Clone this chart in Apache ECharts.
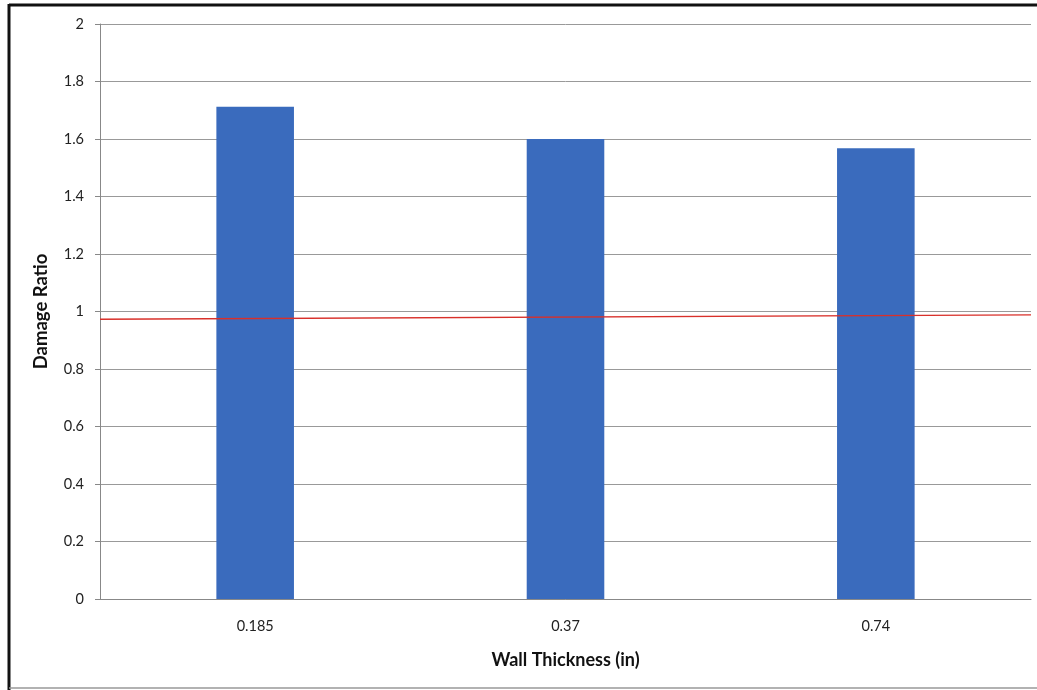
<!DOCTYPE html>
<html>
<head>
<meta charset="utf-8">
<script src="https://cdn.jsdelivr.net/npm/echarts@6/dist/echarts.min.js"></script>
<style>
html,body{margin:0;padding:0;background:#fff;}
#chart{width:1037px;height:690px;}
</style>
</head>
<body>
<div id="chart"></div>
<script>
const categories = ['0.185', '0.37', '0.74'];
const damageRatio = [1.712, 1.60, 1.568];
const refLine = [[0, 0.973], [1, 0.988]];
const yTicks = [0, 0.2, 0.4, 0.6, 0.8, 1, 1.2, 1.4, 1.6, 1.8, 2];

const chart = echarts.init(document.getElementById('chart'));
const font = 'Lato, "Open Sans", sans-serif';
chart.setOption({
  backgroundColor: '#fff',
  animation: false,
  textStyle: { fontFamily: font },
  grid: { left: 100, right: 6, top: 24, bottom: 91 },
  xAxis: [{
    type: 'category',
    data: categories,
    name: 'Wall Thickness (in)',
    nameLocation: 'middle',
    nameGap: 52,
    nameTextStyle: { fontSize: 18, fontWeight: 'bold', color: '#111', fontFamily: font },
    axisLine: { lineStyle: { color: '#888', width: 1 } },
    axisTick: { show: false },
    axisLabel: { fontSize: 14.5, color: '#222', margin: 20, fontFamily: font }
  }, {
    type: 'value', min: 0, max: 1, show: false
  }],
  yAxis: {
    type: 'value',
    min: 0, max: 2, interval: 0.2,
    name: 'Damage Ratio',
    nameLocation: 'middle',
    nameGap: 49,
    nameTextStyle: { fontSize: 18.5, fontWeight: 'bold', color: '#111', fontFamily: font },
    axisLine: { show: true, lineStyle: { color: '#888', width: 1 } },
    axisTick: { show: true, length: 5, lineStyle: { color: '#888' } },
    axisLabel: {
      fontSize: 14.5, color: '#222', margin: 16, fontFamily: font,
      formatter: v => yTicks.includes(Math.round(v * 10) / 10) ? String(Math.round(v * 10) / 10) : ''
    },
    splitLine: { lineStyle: { color: '#999', width: 1 } }
  },
  series: [{
    type: 'bar',
    data: damageRatio,
    barWidth: '25%',
    itemStyle: { color: '#3a6bbd' },
    xAxisIndex: 0
  }, {
    type: 'line',
    xAxisIndex: 1,
    data: refLine,
    symbol: 'none',
    lineStyle: { color: '#d9302a', width: 1.3 },
    z: 5
  }],
  graphic: [
    { type: 'line', shape: { x1: 9, y1: 5, x2: 1037, y2: 5 }, style: { stroke: '#111', lineWidth: 3 } },
    { type: 'line', shape: { x1: 9, y1: 4, x2: 9, y2: 690 }, style: { stroke: '#111', lineWidth: 3 } },
    { type: 'line', shape: { x1: 9, y1: 688, x2: 1037, y2: 688 }, style: { stroke: '#999', lineWidth: 1.5 } }
  ]
});
</script>
</body>
</html>
